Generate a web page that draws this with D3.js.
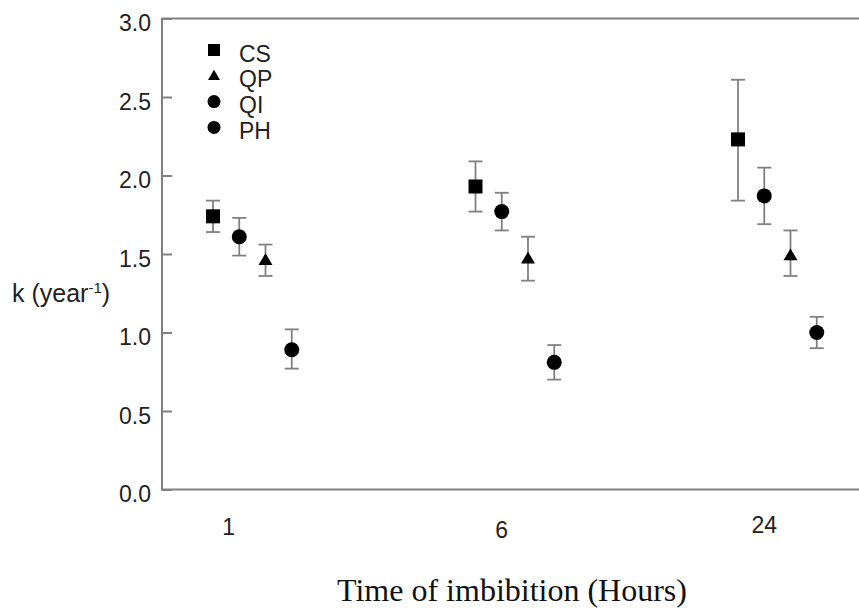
<!DOCTYPE html>
<html lang="en">
<head>
<meta charset="UTF-8">
<title>k vs time of imbibition</title>
<script src="https://d3js.org/d3.v7.min.js"></script>
<style>
  body { margin: 0; background: #fff; }
  svg text { font-family: "Liberation Sans", Arial, sans-serif; fill: #222; }
</style>
</head>
<body>
<svg id="chart" width="859" height="608"></svg>
<script>
// data
const groups = ["1", "6", "24"];
const series = ["CS", "QI", "QP", "PH"];          // order of points inside a group
const legendOrder = ["CS", "QP", "QI", "PH"];
const shapes = { CS: "square", QP: "triangle", QI: "circle", PH: "circle" };
const means = {
  CS: [1.74, 1.93, 2.23],
  QI: [1.61, 1.77, 1.87],
  QP: [1.46, 1.47, 1.49],
  PH: [0.89, 0.81, 1.00]
};
const upper = {
  CS: [1.84, 2.09, 2.61],
  QI: [1.73, 1.89, 2.05],
  QP: [1.56, 1.61, 1.65],
  PH: [1.02, 0.92, 1.10]
};
const lower = {
  CS: [1.64, 1.77, 1.84],
  QI: [1.49, 1.65, 1.69],
  QP: [1.36, 1.33, 1.36],
  PH: [0.77, 0.70, 0.90]
};
const yTicks = [0.0, 0.5, 1.0, 1.5, 2.0, 2.5, 3.0];

const svg = d3.select("#chart");
const mLeft = 162, mTop = 18.5, mBottom = 489.5, mRight = 880;
const fs = 23;

const y = d3.scaleLinear().domain([0, 3]).range([mBottom, mTop]);
// groups 0..2, points step 0.1 inside a group
const x = d3.scaleLinear().domain([0, 2]).range([213, 738]);
const step = 0.1;

// frame: top and bottom lines, left axis
svg.append("path")
  .attr("d", `M${mRight},${mTop} H${mLeft} V${mBottom} H${mRight}`)
  .attr("fill", "none")
  .attr("stroke", "#808080")
  .attr("stroke-width", 2);

// y axis ticks (inward) and labels
const yAxis = svg.append("g").attr("transform", `translate(${mLeft},0)`)
  .call(d3.axisRight(y).tickValues(yTicks).tickSize(10).tickFormat(""));
yAxis.select(".domain").remove();
yAxis.selectAll("line").attr("stroke", "#808080").attr("stroke-width", 2);

svg.append("g").selectAll("text").data(yTicks).join("text")
  .attr("x", 151)
  .attr("y", d => y(d) + 12.5)
  .attr("text-anchor", "end")
  .attr("font-size", fs)
  .text(d => d.toFixed(1));

// x tick labels, sitting a little uneven like the original
const labelPos = [0.06, 1.1, 2.1];
const labelBase = [535, 538, 533];
svg.append("g").selectAll("text").data(groups).join("text")
  .attr("x", (d, i) => x(labelPos[i]))
  .attr("y", (d, i) => labelBase[i])
  .attr("text-anchor", "middle")
  .attr("font-size", fs)
  .text(d => d);

// axis titles
svg.append("text")
  .attr("x", 512).attr("y", 601)
  .attr("text-anchor", "middle")
  .attr("font-size", 32)
  .style("font-family", "'Liberation Serif', 'Times New Roman', serif")
  .style("fill", "#111")
  .text("Time of imbibition (Hours)");

const yl = svg.append("text").attr("x", 12).attr("y", 302).attr("font-size", 25);
yl.append("tspan").text("k (year");
yl.append("tspan").attr("font-size", 15).attr("dy", -9).text("-1");
yl.append("tspan").attr("dy", 9).text(")");

function symbol(g, shape, size) {
  if (shape === "square") {
    g.append("rect").attr("x", -size / 2).attr("y", -size / 2)
      .attr("width", size).attr("height", size).attr("fill", "#000");
  } else if (shape === "triangle") {
    const h = size * 0.85;
    g.append("path")
      .attr("d", `M0,${-h * 0.6} L${size / 2},${h * 0.4} L${-size / 2},${h * 0.4} Z`)
      .attr("fill", "#000");
  } else {
    g.append("circle").attr("r", size / 2 + 0.5).attr("fill", "#000");
  }
}

// points with error bars
const pts = [];
series.forEach((s, si) => {
  groups.forEach((gname, gi) => {
    pts.push({ s, gi, si, m: means[s][gi], hi: upper[s][gi], lo: lower[s][gi] });
  });
});

const cap = 7;
const pg = svg.append("g");
pts.forEach(p => {
  const cx = x(p.gi + p.si * step);
  const g = pg.append("g");
  g.append("line").attr("x1", cx).attr("x2", cx)
    .attr("y1", y(p.hi)).attr("y2", y(p.lo))
    .attr("stroke", "#808080").attr("stroke-width", 1.8);
  [p.hi, p.lo].forEach(v => {
    g.append("line").attr("x1", cx - cap).attr("x2", cx + cap)
      .attr("y1", y(v)).attr("y2", y(v))
      .attr("stroke", "#808080").attr("stroke-width", 1.8);
  });
  const sg = g.append("g").attr("transform", `translate(${cx},${y(p.m)})`);
  symbol(sg, shapes[p.s], 14);
});

// legend
const leg = svg.append("g");
legendOrder.forEach((s, i) => {
  const ly = 50 + i * 25.8;
  const sg = leg.append("g").attr("transform", `translate(214,${ly})`);
  symbol(sg, shapes[s], 12);
  leg.append("text").attr("x", 239).attr("y", ly + 11.5)
    .attr("font-size", fs).text(s);
});
</script>
</body>
</html>
